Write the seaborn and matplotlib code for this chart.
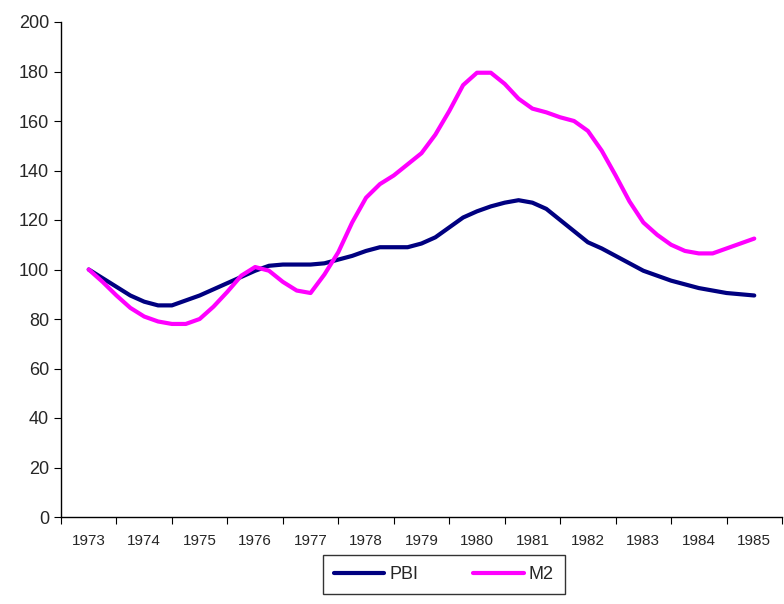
import numpy as np
import pandas as pd
import seaborn as sns
import matplotlib.pyplot as plt

years = [str(y) for y in range(1973, 1986)]

pbi = [100, 96.5, 93, 89.5, 87, 85.5, 85.5, 87.5, 89.5, 92, 94.5, 97, 99.5,
       101.5, 102, 102, 102, 102.5, 104, 105.5, 107.5, 109, 109, 109, 110.5,
       113, 117, 121, 123.5, 125.5, 127, 128, 127, 124.5, 120, 115.5, 111,
       108.5, 105.5, 102.5, 99.5, 97.5, 95.5, 94, 92.5, 91.5, 90.5, 90, 89.5]
m2 = [100, 95, 89.5, 84.5, 81, 79, 78, 78, 80, 85, 91, 97.5, 101,
      99.5, 95, 91.5, 90.5, 98, 107, 119, 129, 134.5, 138, 142.5, 147,
      154.5, 164, 174.5, 179.5, 179.5, 175, 169, 165, 163.5, 161.5, 160, 156,
      148, 138, 127.5, 119, 114, 110, 107.5, 106.5, 106.5, 108.5, 110.5, 112.5]

# quarterly points, starting mid-1973
t = 0.5 + 0.25 * np.arange(len(pbi))
df = pd.DataFrame({"t": np.concatenate([t, t]),
                   "valor": pbi + m2,
                   "serie": ["PBI"] * len(pbi) + ["M2"] * len(m2)})

sns.set_style("white")
plt.rcParams["font.family"] = ["Liberation Sans", "DejaVu Sans"]

fig = plt.figure(figsize=(7.84, 6.04), dpi=100)
ax = fig.add_axes([61 / 784, 1 - 517 / 604, 721 / 784, 495 / 604])
sns.lineplot(data=df, x="t", y="valor", hue="serie",
             palette={"PBI": "#000080", "M2": "#ff00ff"}, linewidth=3, ax=ax, legend=False)

ax.set_xlim(0, 13)
ax.set_ylim(0, 200)
ax.set_yticks(range(0, 201, 20))
ax.set_xticks(range(0, 14))
ax.set_xticklabels([])
ax.set_xticks(np.arange(0.5, 13), minor=True)
ax.set_xticklabels(years, minor=True)
ax.tick_params(axis="x", which="minor", length=0, pad=12, labelsize=11)
ax.tick_params(axis="x", which="major", length=5, direction="out", color="black", bottom=True)
ax.tick_params(axis="y", length=5, direction="out", color="black", left=True, labelsize=13)
ax.set_xlabel("")
ax.set_ylabel("")
for s in ["top", "right"]:
    ax.spines[s].set_visible(False)
for s in ["left", "bottom"]:
    ax.spines[s].set_color("black")
    ax.spines[s].set_linewidth(1)

handles = [plt.Line2D([], [], color="#000080", lw=3), plt.Line2D([], [], color="#ff00ff", lw=3)]
leg = fig.legend(handles, ["PBI", "M2"], loc="upper left", bbox_to_anchor=(323 / 784, 1 - 555 / 604),
                 ncol=2, frameon=True, fancybox=False, edgecolor="black", fontsize=13,
                 handlelength=2.8, columnspacing=3.0, borderpad=0.6, handletextpad=0.3,
                 borderaxespad=0)
leg.get_frame().set_linewidth(1)

fig.savefig("out.png", dpi=100)
